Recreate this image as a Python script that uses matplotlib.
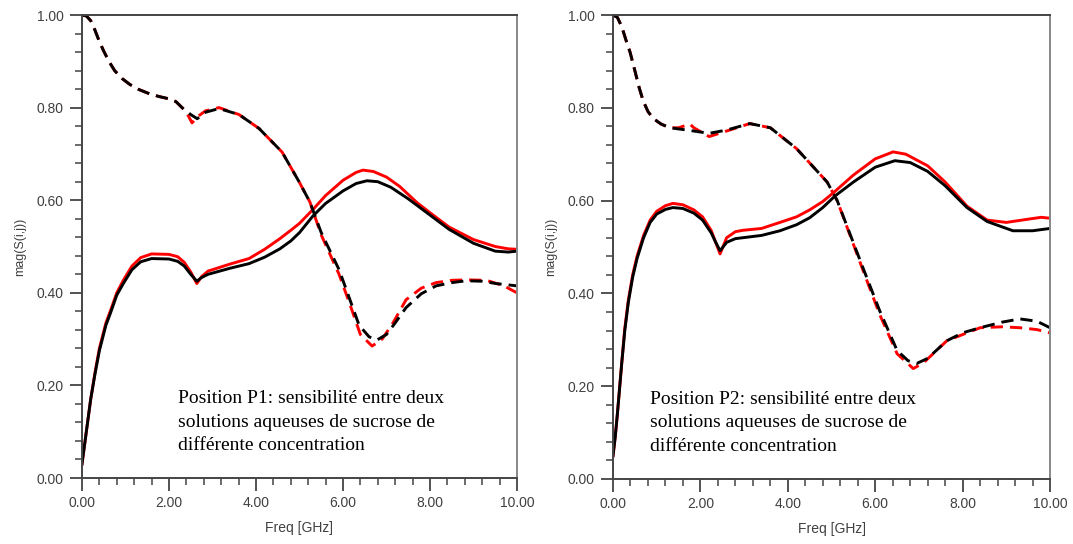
import matplotlib
matplotlib.use("Agg")
import matplotlib.pyplot as plt
from matplotlib.ticker import MultipleLocator, FormatStrFormatter

# ---- panel P1 (left) ----
f1_sol_k = [0, 0.1, 0.2, 0.3, 0.4, 0.55, 0.65, 0.8, 0.95, 1.15, 1.35, 1.6, 2.0, 2.2, 2.35, 2.5, 2.64,
            2.75, 2.9, 3.4, 3.84, 4.2, 4.55, 4.8, 5.0, 5.31, 5.6, 6.0, 6.3, 6.55, 6.8, 7.1, 7.5, 8.0,
            8.44, 9.0, 9.5, 9.8, 10.0]
s1_sol_k = [0.03, 0.10, 0.17, 0.225, 0.275, 0.33, 0.355, 0.395, 0.42, 0.45, 0.467, 0.474, 0.473, 0.468,
            0.458, 0.44, 0.425, 0.433, 0.44, 0.453, 0.463, 0.477, 0.495, 0.512, 0.53, 0.566, 0.593,
            0.62, 0.636, 0.642, 0.64, 0.628, 0.603, 0.568, 0.537, 0.507, 0.49, 0.488, 0.49]
f1_sol_r = [0, 0.1, 0.2, 0.3, 0.4, 0.55, 0.65, 0.8, 0.95, 1.15, 1.35, 1.6, 2.0, 2.2, 2.35, 2.5, 2.64,
            2.75, 2.9, 3.4, 3.84, 4.2, 4.55, 4.8, 5.0, 5.31, 5.6, 6.0, 6.3, 6.46, 6.7, 7.0, 7.3, 7.7,
            8.0, 8.44, 9.0, 9.5, 9.8, 10.0]
s1_sol_r = [0.03, 0.10, 0.17, 0.228, 0.28, 0.335, 0.36, 0.40, 0.427, 0.458, 0.476, 0.484, 0.483, 0.478,
            0.466, 0.445, 0.42, 0.435, 0.447, 0.462, 0.474, 0.494, 0.517, 0.535, 0.55, 0.58, 0.61,
            0.643, 0.66, 0.665, 0.662, 0.65, 0.63, 0.595, 0.573, 0.542, 0.515, 0.5, 0.495, 0.494]
f1_dash_k = [0, 0.1, 0.2, 0.3, 0.39, 0.5, 0.62, 0.75, 0.92, 1.1, 1.31, 1.55, 1.77, 2.0, 2.16, 2.3, 2.5,
             2.65, 2.84, 3.15, 3.61, 4.07, 4.6, 4.99, 5.24, 5.5, 5.91, 6.16, 6.37, 6.6, 6.78, 7.0,
             7.2, 7.45, 7.8, 8.14, 8.5, 8.83, 9.2, 9.52, 10.0]
s1_dash_k = [1.0, 0.998, 0.988, 0.967, 0.945, 0.922, 0.90, 0.88, 0.863, 0.85, 0.839, 0.83, 0.824, 0.819,
             0.813, 0.80, 0.785, 0.776, 0.79, 0.798, 0.785, 0.755, 0.704, 0.64, 0.596, 0.53, 0.45,
             0.385, 0.33, 0.305, 0.298, 0.31, 0.335, 0.368, 0.398, 0.415, 0.422, 0.426, 0.425, 0.42,
             0.415]
f1_dash_r = [0, 0.1, 0.2, 0.3, 0.39, 0.5, 0.62, 0.75, 0.92, 1.1, 1.31, 1.55, 1.77, 2.0, 2.16, 2.3, 2.4,
             2.53, 2.65, 2.84, 3.15, 3.61, 4.07, 4.6, 4.99, 5.24, 5.5, 5.91, 6.16, 6.4, 6.67, 6.9,
             7.15, 7.45, 7.8, 8.14, 8.5, 8.83, 9.3, 9.7, 10.0]
s1_dash_r = [1.0, 0.998, 0.988, 0.967, 0.945, 0.922, 0.90, 0.88, 0.863, 0.85, 0.839, 0.83, 0.824, 0.819,
             0.813, 0.80, 0.79, 0.767, 0.78, 0.793, 0.80, 0.785, 0.755, 0.704, 0.64, 0.596, 0.525,
             0.44, 0.375, 0.31, 0.285, 0.30, 0.335, 0.385, 0.41, 0.422, 0.427, 0.428, 0.427, 0.415,
             0.40]

# ---- panel P2 (right) ----
f2_sol_k = [0, 0.05, 0.1, 0.2, 0.27, 0.35, 0.45, 0.55, 0.7, 0.85, 1.0, 1.2, 1.37, 1.6, 1.85, 2.05,
            2.25, 2.35, 2.45, 2.6, 2.8, 2.97, 3.4, 3.82, 4.2, 4.5, 4.8, 5.08, 5.5, 6.0, 6.45, 6.8, 7.2,
            7.6, 8.1, 8.56, 9.15, 9.6, 10.0]
s2_sol_k = [0.05, 0.09, 0.14, 0.25, 0.32, 0.38, 0.435, 0.475, 0.52, 0.553, 0.571, 0.581, 0.585, 0.583,
            0.573, 0.558, 0.53, 0.51, 0.492, 0.51, 0.518, 0.52, 0.525, 0.535, 0.548, 0.563, 0.585,
            0.61, 0.64, 0.672, 0.686, 0.682, 0.663, 0.632, 0.585, 0.555, 0.535, 0.535, 0.54]
f2_sol_r = [0, 0.05, 0.1, 0.2, 0.27, 0.35, 0.45, 0.55, 0.7, 0.85, 1.0, 1.2, 1.37, 1.6, 1.85, 2.05,
            2.25, 2.35, 2.45, 2.6, 2.8, 2.97, 3.4, 3.82, 4.2, 4.5, 4.8, 5.08, 5.5, 6.0, 6.41, 6.7, 7.2,
            7.6, 8.1, 8.56, 9.0, 9.5, 9.8, 10.0]
s2_sol_r = [0.05, 0.09, 0.14, 0.25, 0.325, 0.385, 0.44, 0.48, 0.525, 0.558, 0.577, 0.589, 0.594, 0.591,
            0.58, 0.565, 0.535, 0.51, 0.485, 0.52, 0.533, 0.536, 0.54, 0.553, 0.565, 0.58, 0.598,
            0.62, 0.655, 0.69, 0.705, 0.70, 0.675, 0.64, 0.588, 0.558, 0.553, 0.56, 0.564, 0.562]
f2_dash_k = [0, 0.1, 0.2, 0.3, 0.39, 0.5, 0.6, 0.69, 0.8, 0.92, 1.1, 1.3, 1.7, 2.2, 2.6, 3.13, 3.6, 4.2,
             4.9, 5.13, 5.72, 6.1, 6.5, 6.75, 6.95, 7.2, 7.64, 8.0, 8.4, 8.9, 9.31, 9.7, 10.0]
s2_dash_k = [1.0, 0.995, 0.975, 0.945, 0.92, 0.88, 0.843, 0.815, 0.792, 0.777, 0.765, 0.757, 0.752,
             0.745, 0.752, 0.766, 0.757, 0.712, 0.64, 0.6, 0.455, 0.363, 0.277, 0.255, 0.249, 0.26,
             0.298, 0.315, 0.326, 0.338, 0.345, 0.34, 0.326]
f2_dash_r = [0, 0.1, 0.2, 0.3, 0.39, 0.5, 0.6, 0.69, 0.8, 0.92, 1.1, 1.3, 1.5, 1.76, 1.85, 2.2, 2.6,
             3.13, 3.6, 4.2, 4.9, 5.13, 5.72, 6.1, 6.5, 6.87, 7.1, 7.64, 8.4, 8.9, 9.31, 9.7, 10.0]
s2_dash_r = [1.0, 0.995, 0.975, 0.945, 0.92, 0.88, 0.843, 0.815, 0.792, 0.777, 0.765, 0.757, 0.757,
             0.765, 0.757, 0.738, 0.75, 0.766, 0.757, 0.712, 0.64, 0.6, 0.45, 0.355, 0.27, 0.238,
             0.25, 0.298, 0.326, 0.328, 0.326, 0.322, 0.315]

notes = ["Position P1: sensibilité entre deux\nsolutions aqueuses de sucrose de\ndifférente concentration",
         "Position P2: sensibilité entre deux\nsolutions aqueuses de sucrose de\ndifférente concentration"]

fig = plt.figure(figsize=(10.73, 5.44), dpi=100)
ax1 = fig.add_axes([0.0764, 0.1213, 0.4054, 0.8511])
ax2 = fig.add_axes([0.5713, 0.1195, 0.4073, 0.8529])

panels = [
    (ax1, f1_sol_r, s1_sol_r, f1_sol_k, s1_sol_k, f1_dash_r, s1_dash_r, f1_dash_k, s1_dash_k, notes[0], (2.2, 0.19)),
    (ax2, f2_sol_r, s2_sol_r, f2_sol_k, s2_sol_k, f2_dash_r, s2_dash_r, f2_dash_k, s2_dash_k, notes[1], (0.85, 0.19)),
]

lw = 2.1
dash = (4.2, 2.4)
for ax, fsr, ssr, fsk, ssk, fdr, sdr, fdk, sdk, note, pos in panels:
    ax.plot(fsr, ssr, color='#ff0000', lw=lw)
    ax.plot(fsk, ssk, color='black', lw=lw)
    ax.plot(fdr, sdr, color='#ff0000', lw=lw, dashes=dash)
    ax.plot(fdk, sdk, color='black', lw=lw, dashes=dash)

    ax.set_xlim(0, 10)
    ax.set_ylim(0, 1)
    ax.xaxis.set_major_locator(MultipleLocator(2))
    ax.xaxis.set_minor_locator(MultipleLocator(0.4))
    ax.yaxis.set_major_locator(MultipleLocator(0.2))
    ax.yaxis.set_minor_locator(MultipleLocator(0.04))
    ax.xaxis.set_major_formatter(FormatStrFormatter('%.2f'))
    ax.yaxis.set_major_formatter(FormatStrFormatter('%.2f'))
    ax.tick_params(which='major', direction='out', length=9, width=1.3, color='#444444',
                   labelsize=10, labelcolor='#404040', pad=4)
    ax.tick_params(which='minor', direction='out', length=5, width=1.1, color='#444444')
    for lab in ax.get_xticklabels() + ax.get_yticklabels():
        lab.set_family('Liberation Sans')
    for sp in ['left', 'bottom', 'top']:
        ax.spines[sp].set_color('#444444')
        ax.spines[sp].set_linewidth(1.4)
    ax.spines['right'].set_color('#888888')
    ax.spines['right'].set_linewidth(1.4)

    ax.set_xlabel('Freq [GHz]', family='Liberation Sans', fontsize=10, color='#404040', labelpad=8)
    ax.set_ylabel('mag(S(i,j))', family='Liberation Sans', fontsize=9, color='#404040', labelpad=8)

    ax.text(pos[0], pos[1], note, family='Liberation Serif', fontsize=14, va='top', ha='left',
            linespacing=1.5, color='black')

fig.savefig('out.png', dpi=100)
